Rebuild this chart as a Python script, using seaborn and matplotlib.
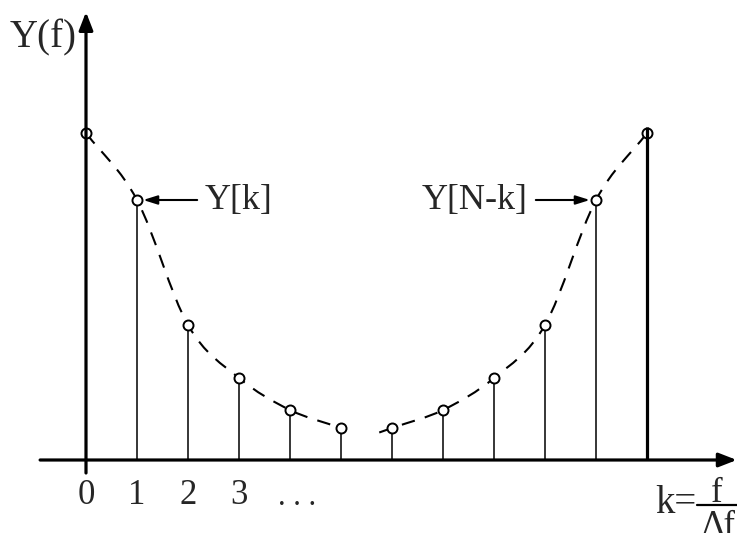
import numpy as np
import pandas as pd
import seaborn as sns
import matplotlib
matplotlib.use("Agg")
import matplotlib.pyplot as plt
from matplotlib.path import Path
from matplotlib.patches import PathPatch

# Spectrum samples Y[k], k = 0 .. N (symmetric: Y[N-k] = Y[k])
k_index = list(range(12))
magnitudes = [3.27, 2.60, 1.35, 0.82, 0.50, 0.32,
              0.32, 0.50, 0.82, 1.35, 2.60, 3.27]
tick_labels = ["0", "1", "2", "3"]
left_branch = list(range(0, 6))
right_branch = list(range(6, 12))

df = pd.DataFrame({"k": k_index, "Y": magnitudes})

sns.set_theme(style="white")
plt.rcParams["font.family"] = ["Liberation Serif", "DejaVu Serif"]

fig = plt.figure(figsize=(7.37, 5.33), dpi=100)
ax = fig.add_axes([0, 0, 1, 1])
ax.set_xlim(-86 / 51, (737 - 86) / 51)
ax.set_ylim(-0.73, 4.60)
ax.set_axis_off()


def catmull_rom_path(xs, ys, lead_in=0.0):
    pts = np.column_stack([xs, ys]).astype(float)
    ext = np.vstack([2 * pts[0] - pts[1], pts, 2 * pts[-1] - pts[-2]])
    verts, codes = [], []
    if lead_in > 0:
        start = pts[0] - lead_in * (pts[1] - pts[0])
        verts += [start, pts[0]]
        codes += [Path.MOVETO, Path.LINETO]
    else:
        verts.append(pts[0])
        codes.append(Path.MOVETO)
    for i in range(1, len(ext) - 2):
        p0, p1, p2, p3 = ext[i - 1], ext[i], ext[i + 1], ext[i + 2]
        c1 = p1 + (p2 - p0) / 6.0
        c2 = p2 - (p3 - p1) / 6.0
        verts += [c1, c2, p2]
        codes += [Path.CURVE4] * 3
    return Path(verts, codes)


# Dashed envelope of the two halves of the spectrum
for branch, lead in ((left_branch, 0.0), (right_branch, 0.25)):
    sub = df.iloc[branch]
    path = catmull_rom_path(sub["k"].values, sub["Y"].values, lead_in=lead)
    ax.add_patch(PathPatch(path, fill=False, edgecolor="black", lw=1.5,
                           linestyle=(0, (6.5, 5.0)), zorder=2))

# Thin stems for interior samples
inner = df.iloc[1:-1]
ax.vlines(inner["k"], 0, inner["Y"], color="black", lw=1.1, zorder=3)

# Sample markers
sns.scatterplot(data=df, x="k", y="Y", ax=ax, s=52, marker="o",
                facecolor="white", edgecolor="black", linewidth=1.4,
                zorder=4, legend=False)

# Thick stem for the last sample, drawn through its marker
last = df.iloc[-1]
ax.vlines([last["k"]], 0, [last["Y"] + 0.06], color="black", lw=2.3,
          zorder=5)

# Axes with arrow heads
axis_arrow = dict(arrowstyle="-|>,head_length=0.9,head_width=0.35",
                  lw=2.3, color="black", shrinkA=0, shrinkB=0)
ax.annotate("", xy=(12.76, 0), xytext=(-0.90, 0),
            arrowprops=axis_arrow, annotation_clip=False, zorder=6)
ax.annotate("", xy=(0, 4.48), xytext=(0, -0.13),
            arrowprops=axis_arrow, annotation_clip=False, zorder=6)

# Labels
ax.text(-1.49, 4.22, "Y(f)", fontsize=28, ha="left", va="center")

label_arrow = dict(arrowstyle="-|>,head_length=0.7,head_width=0.22",
                   lw=1.5, color="black", shrinkA=0, shrinkB=0)
y1 = df.loc[1, "Y"]
ax.annotate("", xy=(1.12, y1), xytext=(2.18, y1), arrowprops=label_arrow)
ax.text(2.33, y1, "Y[k]", fontsize=26, ha="left", va="center")

y10 = df.loc[10, "Y"]
ax.annotate("", xy=(9.88, y10), xytext=(8.82, y10), arrowprops=label_arrow)
ax.text(8.65, y10, "Y[N-k]", fontsize=26, ha="right", va="center")

for i, lab in enumerate(tick_labels):
    ax.text(df.loc[i, "k"], -0.35, lab, fontsize=25, ha="center", va="center")
ax.text(4.14, -0.45, ". . .", fontsize=22, ha="center", va="baseline")

ax.text(11.97, -0.53, "k=", fontsize=28, ha="right", va="baseline")
ax.plot([11.98, 12.9], [-0.45, -0.45], color="black", lw=1.6)
ax.text(12.36, -0.42, "f", fontsize=25, ha="center", va="baseline")
ax.text(12.40, -0.50, "Δf", fontsize=25, ha="center", va="top")

fig.savefig("out.png", dpi=100)
